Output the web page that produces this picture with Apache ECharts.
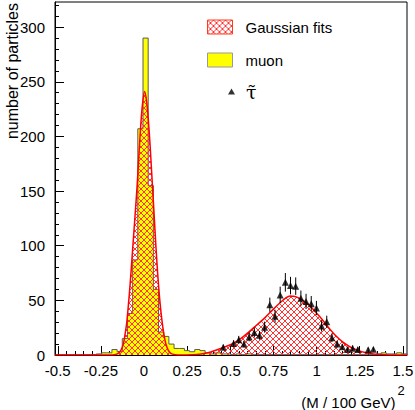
<!DOCTYPE html>
<html>
<head>
<meta charset="utf-8">
<script src="https://cdn.jsdelivr.net/npm/echarts@6.0.0/dist/echarts.min.js"></script>
<style>
  html, body { margin: 0; padding: 0; background: #fff; }
  #chart { width: 415px; height: 410px; }
</style>
</head>
<body>
<div id="chart"></div>
<script>
// muon histogram, bins 0.03 wide, first left edge below
var muonFirstEdge = -0.306;
var muonBinWidth = 0.03;
var muonCounts = [0, 1, 2, 2, 5, 3, 15, 38, 87, 207, 290, 155, 60, 21, 17, 10, 6, 6, 4, 3,
                  5, 4, 2, 1, 2, 1, 1, 0, 1, 0, 1, 0,
                  0, 0, 0, 0, 0, 0, 0, 0, 0, 0, 0, 0, 0, 0, 0, 0, 0, 0, 0, 0, 0, 0, 0,
                  1, 2, 1, 1, 2, 1];

// gaussian fits (both peaks)
var fitX = [-0.516, -0.2, -0.17, -0.15, -0.135, -0.12, -0.111, -0.1, -0.09, -0.08, -0.07, -0.06,
            -0.05, -0.04, -0.03, -0.02, -0.01, 0.003, 0.015, 0.025, 0.035, 0.045, 0.055, 0.065,
            0.075, 0.085, 0.095, 0.105, 0.115, 0.125, 0.14, 0.155, 0.18, 0.22, 0.28, 0.32, 0.37,
            0.42, 0.47, 0.517, 0.56, 0.6, 0.65, 0.7, 0.75, 0.79, 0.82, 0.846, 0.875, 0.91, 0.95,
            0.99, 1.03, 1.06, 1.1, 1.136, 1.165, 1.2, 1.24, 1.28, 1.33, 1.39, 1.45, 1.524];
var fitY = [0, 0, 0.3, 1.5, 4, 10, 18, 30, 47, 66, 88, 110,
            132, 155, 182, 208, 228, 241, 232, 215, 192, 165, 138, 110,
            84, 62, 44, 30, 19, 11, 4.5, 1.5, 0.3, 0, 0.2, 0.6, 2,
            4.6, 7.5, 10.7, 15, 20, 27, 34, 42, 48, 52, 54, 53.5, 51, 46.5,
            40, 33, 27, 19.5, 14, 10.5, 7, 4.2, 2.2, 0.9, 0.3, 0, 0];

// stau points with error bars
var tauX = [0.459, 0.519, 0.549, 0.579, 0.609, 0.639, 0.669, 0.699, 0.729, 0.759,
            0.789, 0.819, 0.849, 0.879, 0.909, 0.939, 0.969, 0.999, 1.029, 1.059,
            1.089, 1.119, 1.149, 1.179, 1.209, 1.239, 1.299, 1.329];
var tauY = [7, 10.5, 14, 10, 16.5, 20.5, 18, 25.5, 46, 35.5,
            55, 66.5, 63.5, 63, 52, 49, 47, 43, 26.5, 30.5,
            15.8, 10, 7.5, 5, 6.2, 5, 4.8, 5.2];
var tauErr = [2.5, 3, 3.5, 3, 4, 4.5, 4, 5, 6.5, 6,
              7.5, 8.5, 8, 8, 7, 7, 7, 6.5, 5, 5.5,
              4, 3, 2.5, 2, 2.5, 2, 2, 2];

// ticks
var xMajor = [-0.5, -0.25, 0, 0.25, 0.5, 0.75, 1, 1.25, 1.5];
var xMinor = [-0.45, -0.4, -0.35, -0.3, -0.2, -0.15, -0.1, -0.05, 0.05, 0.1, 0.15, 0.2,
              0.3, 0.35, 0.4, 0.45, 0.55, 0.6, 0.65, 0.7, 0.8, 0.85, 0.9, 0.95,
              1.05, 1.1, 1.15, 1.2, 1.3, 1.35, 1.4, 1.45];
var yMajor = [0, 50, 100, 150, 200, 250, 300];
var yMinor = [10, 20, 30, 40, 60, 70, 80, 90, 110, 120, 130, 140, 160, 170, 180, 190,
              210, 220, 230, 240, 260, 270, 280, 290, 310, 320];

var muonData = [];
for (var i = 0; i < muonCounts.length; i++) {
  muonData.push([muonFirstEdge + i * muonBinWidth, muonCounts[i]]);
}
muonData.push([muonFirstEdge + muonCounts.length * muonBinWidth, 0]);

var fitData = fitX.map(function (x, i) { return [x, fitY[i]]; });
var tauData = tauX.map(function (x, i) { return [x, tauY[i]]; });
var tauBars = tauX.map(function (x, i) { return [x, tauY[i] - tauErr[i], tauY[i] + tauErr[i]]; });

// red cross hatch tile
function hatchTile() {
  var c = document.createElement('canvas');
  c.width = 6; c.height = 6;
  var ctx = c.getContext('2d');
  ctx.fillStyle = '#ff3333';
  for (var k = 0; k < 6; k++) {
    ctx.fillRect(k, k, 1, 1);
    ctx.fillRect(5 - k, k, 1, 1);
  }
  return c;
}
var hatch = { image: hatchTile(), repeat: 'repeat', imageWidth: 6, imageHeight: 6 };

var font = 'Liberation Sans';
var myChart = echarts.init(document.getElementById('chart'), null, { renderer: 'svg' });
myChart.setOption({
  animation: false,
  backgroundColor: '#fff',
  grid: {
    left: 55, right: 8, top: 2, bottom: 55,
    show: true, borderColor: '#000', borderWidth: 1,
    outerBoundsMode: 'none'
  },
  xAxis: [
    {
      type: 'value', min: -0.516, max: 1.524,
      axisLine: { onZero: false, lineStyle: { color: '#000' } },
      axisTick: { inside: true, length: 9, customValues: xMajor, lineStyle: { color: '#000' } },
      axisLabel: { customValues: xMajor, margin: 8, color: '#000', fontFamily: font, fontSize: 15 },
      splitLine: { show: false }
    },
    {
      type: 'value', min: -0.516, max: 1.524, position: 'bottom',
      axisLine: { show: false, onZero: false },
      axisTick: { inside: true, length: 4, customValues: xMinor, lineStyle: { color: '#000' } },
      axisLabel: { show: false },
      splitLine: { show: false }
    }
  ],
  yAxis: [
    {
      type: 'value', min: 0, max: 323,
      axisLine: { show: true, onZero: false, lineStyle: { color: '#000' } },
      axisTick: { show: true, inside: true, length: 9, customValues: yMajor, lineStyle: { color: '#000' } },
      axisLabel: { customValues: yMajor, margin: 10, color: '#000', fontFamily: font, fontSize: 15 },
      splitLine: { show: false }
    },
    {
      type: 'value', min: 0, max: 323, position: 'left',
      axisLine: { show: false, onZero: false },
      axisTick: { show: true, inside: true, length: 4, customValues: yMinor, lineStyle: { color: '#000' } },
      axisLabel: { show: false },
      splitLine: { show: false }
    }
  ],
  legend: [
    {
      left: 207, top: 19, padding: 0,
      orient: 'vertical', icon: 'rect', selectedMode: false,
      itemWidth: 25, itemHeight: 14, itemGap: 17,
      textStyle: { fontFamily: font, fontSize: 15, color: '#000', lineHeight: 16, padding: [0, 0, 0, 8] },
      data: [
        { name: 'Gaussian fits', itemStyle: { color: hatch, borderColor: '#ff3b1f', borderWidth: 1 } },
        { name: 'muon', itemStyle: { color: '#ffff00', borderColor: '#999', borderWidth: 1 } }
      ]
    },
    {
      left: 228, top: 82, padding: 0,
      icon: 'triangle', selectedMode: false,
      itemWidth: 7, itemHeight: 6,
      itemStyle: { color: '#000' },
      textStyle: { fontFamily: 'DejaVu Serif', fontSize: 19, color: '#000', padding: [0, 0, 0, 6] },
      data: ['τ̃']
    }
  ],
  graphic: [
    {
      type: 'text', x: 12.5, y: 3, rotation: Math.PI / 2,
      style: { text: 'number of particles', font: '16px "Liberation Sans"', fill: '#000',
               align: 'right', textAlign: 'right', verticalAlign: 'middle', textVerticalAlign: 'middle' }
    },
    {
      type: 'text', x: 395.5, y: 402,
      style: { text: '(M / 100 GeV)', font: '15px "Liberation Sans"', fill: '#000',
               align: 'right', textAlign: 'right', verticalAlign: 'middle', textVerticalAlign: 'middle' }
    },
    {
      type: 'text', x: 397.5, y: 390,
      style: { text: '2', font: '13px "Liberation Sans"', fill: '#000',
               align: 'left', textAlign: 'left', verticalAlign: 'middle', textVerticalAlign: 'middle' }
    }
  ],
  series: [
    {
      name: 'muon', type: 'line', step: 'end', symbol: 'none', z: 2,
      data: muonData,
      itemStyle: { color: '#ffff00' },
      lineStyle: { color: '#5a5a5a', width: 1 },
      areaStyle: { color: '#ffff00', opacity: 1 }
    },
    {
      name: 'Gaussian fits', type: 'line', smooth: 0.3, symbol: 'none', z: 3,
      data: fitData,
      itemStyle: { color: '#ff0000' },
      lineStyle: { color: '#ff0000', width: 1.5 },
      areaStyle: { color: hatch, opacity: 1 }
    },
    {
      name: 'tau errors', type: 'custom', z: 4,
      data: tauBars,
      encode: { x: 0, y: [1, 2] },
      renderItem: function (params, api) {
        var p1 = api.coord([api.value(0), api.value(1)]);
        var p2 = api.coord([api.value(0), api.value(2)]);
        return {
          type: 'line',
          shape: { x1: p1[0], y1: p1[1], x2: p2[0], y2: p2[1] },
          style: { stroke: '#000', lineWidth: 1 }
        };
      }
    },
    {
      name: 'τ̃', type: 'scatter', symbol: 'triangle', symbolSize: 7, z: 5,
      data: tauData,
      itemStyle: { color: '#000' }
    }
  ]
});
</script>
</body>
</html>
